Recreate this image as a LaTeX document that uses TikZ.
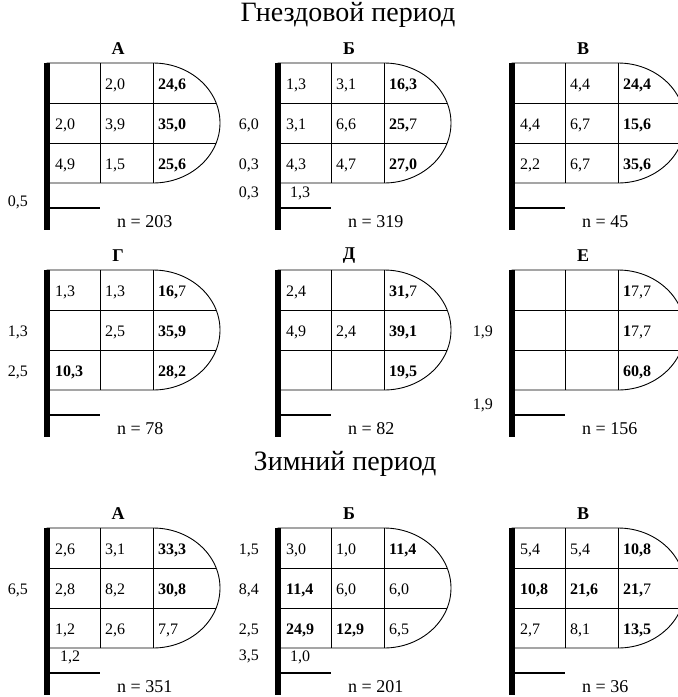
\documentclass[tikz,border=0pt]{standalone}
\usepackage{fontspec}
\setmainfont{Liberation Serif}
\usetikzlibrary{positioning}

% one row of three cells inside a hutch
\newcommand{\cellrow}[5]{%
  \node[cell] (#1-#2a) at (3,{40*#2-18}) {#3};
  \node[cell] (#1-#2b) at (53,{40*#2-18}) {#4};
  \node[cell] (#1-#2c) at (106,{40*#2-18}) {#5};}

% hutch: bar, grid, rounded front, floor line, title and count
\newcommand{\hutch}[6]{%
  \begin{scope}[shift={(#2,#3)}]
    \draw[grid] (0,0) -- (106,0) arc[start angle=-90, end angle=90, x radius=67, y radius=60] -- (0,120) -- cycle;
    \draw[grid] (0,40) -- (169.2,40) (0,80) -- (169.2,80);
    \draw[grid] (53,0) -- (53,120) (106,0) -- (106,120);
    \draw[bar] (0,0) -- (0,167);
    \draw[floor] (0,145) -- (53,145);
    \node[head] (#1-t) at (71,-14) {#4};
    \node[count] (#1-n) at (70,158.5) {n = #5};
    #6
  \end{scope}}

\begin{document}
\begin{tikzpicture}[
  x=1pt, y=-1pt,
  grid/.style={line width=0.9pt},
  bar/.style={line width=5.5pt},
  floor/.style={line width=2pt},
  cell/.style={anchor=west, inner xsep=5pt, inner ysep=0pt, font=\fontsize{16}{18}\selectfont},
  side/.style={anchor=east, inner sep=0pt, font=\fontsize{16}{18}\selectfont},
  count/.style={anchor=west, inner sep=0pt, font=\fontsize{18}{20}\selectfont},
  head/.style={font=\bfseries\fontsize{18}{20}\selectfont},
  period/.style={font=\fontsize{28}{30}\selectfont}
]
  \useasboundingbox (0,0) rectangle (678,697);

  % nesting period
  \node[period] (nest) at (348,15) {Гнездовой период};

  \hutch{na}{47}{63}{А}{203}{
    \cellrow{na}{1}{}{2,0}{\textbf{24,6}}
    \cellrow{na}{2}{2,0}{3,9}{\textbf{35,0}}
    \cellrow{na}{3}{4,9}{1,5}{\textbf{25,6}}
    \node[side] (na-s4) at (-19,139) {0,5};
  }
  \hutch{nb}{278}{63}{Б}{319}{
    \cellrow{nb}{1}{1,3}{3,1}{\textbf{16,3}}
    \cellrow{nb}{2}{3,1}{6,6}{\textbf{25,}7}
    \cellrow{nb}{3}{4,3}{4,7}{\textbf{27,0}}
    \node[cell] (nb-f) at (7,130) {1,3};
    \node[side] (nb-s2) at (-19,62) {6,0};
    \node[side] (nb-s3) at (-19,102) {0,3};
    \node[side] (nb-s4) at (-19,130) {0,3};
  }
  \hutch{nv}{512}{63}{В}{45}{
    \cellrow{nv}{1}{}{4,4}{\textbf{24,4}}
    \cellrow{nv}{2}{4,4}{6,7}{\textbf{15,6}}
    \cellrow{nv}{3}{2,2}{6,7}{\textbf{35,6}}
  }
  \hutch{ng}{47}{270}{Г}{78}{
    \cellrow{ng}{1}{1,3}{1,3}{\textbf{16,}7}
    \cellrow{ng}{2}{}{2,5}{\textbf{35,9}}
    \cellrow{ng}{3}{\textbf{10,3}}{}{\textbf{28,2}}
    \node[side] (ng-s2) at (-19,62) {1,3};
    \node[side] (ng-s3) at (-19,102) {2,5};
  }
  \hutch{nd}{278}{270}{Д}{82}{
    \cellrow{nd}{1}{2,4}{}{\textbf{31,}7}
    \cellrow{nd}{2}{4,9}{2,4}{\textbf{39,1}}
    \cellrow{nd}{3}{}{}{\textbf{19,5}}
  }
  \hutch{ne}{512}{270}{Е}{156}{
    \cellrow{ne}{1}{}{}{\textbf{1}7,7}
    \cellrow{ne}{2}{}{}{\textbf{1}7,7}
    \cellrow{ne}{3}{}{}{\textbf{60,8}}
    \node[side] (ne-s2) at (-19,62) {1,9};
    \node[side] (ne-s4) at (-19,135) {1,9};
  }

  % winter period
  \node[period] (winter) at (345,464) {Зимний период};

  \hutch{wa}{47}{528}{А}{351}{
    \cellrow{wa}{1}{2,6}{3,1}{\textbf{33,3}}
    \cellrow{wa}{2}{2,8}{8,2}{\textbf{30,8}}
    \cellrow{wa}{3}{1,2}{2,6}{7,7}
    \node[cell] (wa-f) at (8,129) {1,2};
    \node[side] (wa-s2) at (-19,62) {6,5};
  }
  \hutch{wb}{278}{528}{Б}{201}{
    \cellrow{wb}{1}{3,0}{1,0}{\textbf{11,4}}
    \cellrow{wb}{2}{\textbf{11,4}}{6,0}{6,0}
    \cellrow{wb}{3}{\textbf{24,9}}{\textbf{12,9}}{6,5}
    \node[cell] (wb-f) at (7,129) {1,0};
    \node[side] (wb-s1) at (-19,22) {1,5};
    \node[side] (wb-s2) at (-19,62) {8,4};
    \node[side] (wb-s3) at (-19,102) {2,5};
    \node[side] (wb-s4) at (-19,128) {3,5};
  }
  \hutch{wv}{512}{528}{В}{36}{
    \cellrow{wv}{1}{5,4}{5,4}{\textbf{10,8}}
    \cellrow{wv}{2}{\textbf{10,8}}{\textbf{21,6}}{\textbf{21,}7}
    \cellrow{wv}{3}{2,7}{8,1}{\textbf{13,5}}
  }
\end{tikzpicture}
\end{document}
